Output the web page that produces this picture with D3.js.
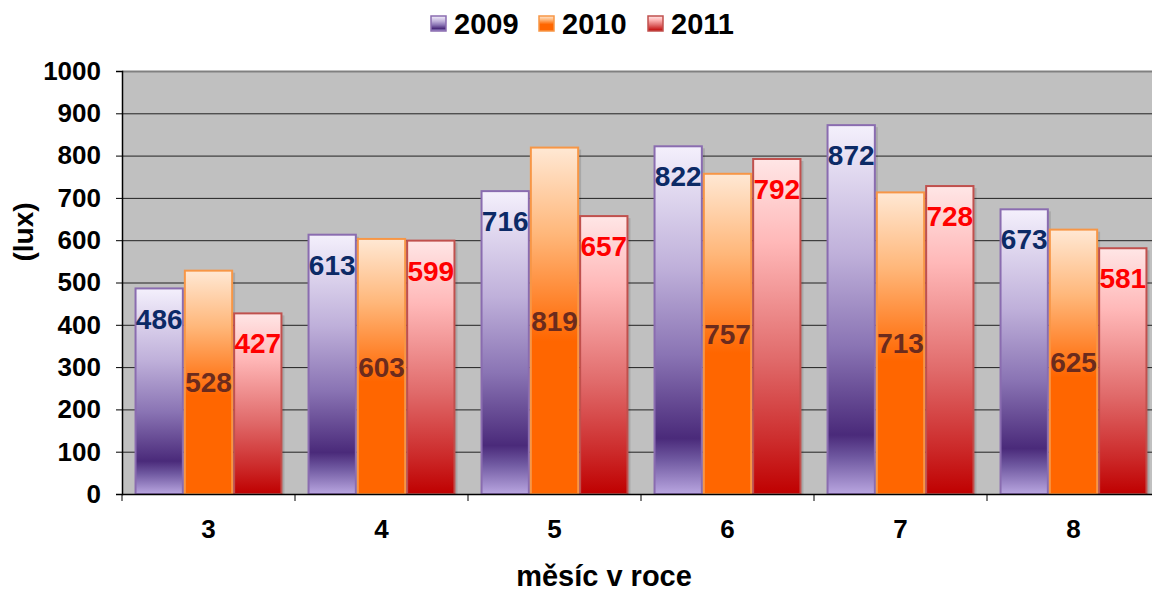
<!DOCTYPE html>
<html>
<head>
<meta charset="utf-8">
<script src="https://cdn.jsdelivr.net/npm/d3@7"></script>
<style>
  body { margin: 0; background: #fff; }
  text { font-family: "Liberation Sans", Arial, sans-serif; font-weight: bold; }
</style>
</head>
<body>
<div id="chart"></div>
<script>
// Months (x categories) and yearly series
const months = ["3", "4", "5", "6", "7", "8"];
const years = ["2009", "2010", "2011"];
const values2009 = [486, 613, 716, 822, 872, 673];
const values2010 = [528, 603, 819, 757, 713, 625];
const values2011 = [427, 599, 657, 792, 728, 581];
const yTicks = [0, 100, 200, 300, 400, 500, 600, 700, 800, 900, 1000];

const seriesValues = { "2009": values2009, "2010": values2010, "2011": values2011 };

// Chart size and plot box (plot runs past the right edge, as in the source)
const width = 1152;
const height = 593;
const plot = { left: 122, right: 1160, top: 71, bottom: 494 };

const svg = d3
  .select("#chart")
  .append("svg")
  .attr("width", width)
  .attr("height", height);

// Gradients for each series
const defs = svg.append("defs");
const gradStops = {
  "2009": [
    [0, "#f4f0fc"], [0.35, "#bfb0da"], [0.6, "#8a74b4"], [0.84, "#4a2a7a"],
    [0.9, "#6f58a0"], [1, "#b9a6e0"]
  ],
  "2010": [
    [0, "#ffe8d4"], [0.25, "#ffb77a"], [0.48, "#ff7a1e"], [0.56, "#ff6600"], [1, "#ff6600"]
  ],
  "2011": [
    [0, "#ffe6e6"], [0.25, "#ffb8b8"], [0.6, "#e06a6a"], [0.85, "#cc2a2a"], [1, "#bf0000"]
  ]
};
const strokeColor = { "2009": "#8a6cb0", "2010": "#f79646", "2011": "#c0504d" };
const labelColor = { "2009": "#0c2a66", "2010": "#6b2b1d", "2011": "#ff0000" };

years.forEach((yr) => {
  const g = defs
    .append("linearGradient")
    .attr("id", "grad" + yr)
    .attr("x1", 0).attr("y1", 0).attr("x2", 0).attr("y2", 1);
  gradStops[yr].forEach(([o, c]) => {
    g.append("stop").attr("offset", o).attr("stop-color", c);
  });
});

// Scales
const x = d3
  .scaleBand()
  .domain(months)
  .range([plot.left, plot.right])
  .paddingInner(0.145)
  .paddingOuter(0.0725);
const xSub = d3.scaleBand().domain(years).range([0, x.bandwidth()]);
const y = d3.scaleLinear().domain([0, 1000]).range([plot.bottom, plot.top]);
const step = x.step();

// Plot background
svg
  .append("rect")
  .attr("x", plot.left)
  .attr("y", plot.top)
  .attr("width", plot.right - plot.left)
  .attr("height", plot.bottom - plot.top)
  .attr("fill", "#c0c0c0");

// Gridlines
svg
  .append("g")
  .selectAll("line")
  .data(yTicks.filter((t) => t > 0))
  .join("line")
  .attr("x1", plot.left)
  .attr("x2", plot.right)
  .attr("y1", (d) => y(d) + 0.5)
  .attr("y2", (d) => y(d) + 0.5)
  .attr("stroke", (d) => (d === 1000 ? "#808080" : "#222"))
  .attr("stroke-width", (d) => (d === 1000 ? 2 : 1));

// Bars
const groups = svg
  .append("g")
  .selectAll("g")
  .data(months)
  .join("g")
  .attr("transform", (d) => `translate(${x(d)},0)`);

const barData = (m, i) =>
  years.map((yr) => ({ year: yr, value: seriesValues[yr][i] }));

groups
  .selectAll("rect.shadow")
  .data(barData)
  .join("rect")
  .attr("class", "shadow")
  .attr("x", (d) => xSub(d.year) + 2)
  .attr("y", (d) => y(d.value) + 2)
  .attr("width", xSub.bandwidth())
  .attr("height", (d) => plot.bottom - y(d.value) - 2)
  .attr("fill", "rgba(0,0,0,0.12)");

groups
  .selectAll("rect.bar")
  .data(barData)
  .join("rect")
  .attr("class", "bar")
  .attr("x", (d) => xSub(d.year) + 1)
  .attr("y", (d) => y(d.value))
  .attr("width", xSub.bandwidth() - 2)
  .attr("height", (d) => plot.bottom - y(d.value))
  .attr("fill", (d) => `url(#grad${d.year})`)
  .attr("stroke", (d) => strokeColor[d.year])
  .attr("stroke-width", 2);

// Data labels
groups
  .selectAll("text")
  .data(barData)
  .join("text")
  .attr("x", (d) => xSub(d.year) + xSub.bandwidth() / 2)
  .attr("y", (d) =>
    d.year === "2010"
      ? (y(d.value) + plot.bottom) / 2
      : y(d.value) + 30
  )
  .attr("dy", "0.36em")
  .attr("text-anchor", "middle")
  .attr("font-size", 28)
  .attr("fill", (d) => labelColor[d.year])
  .text((d) => d.value);

// Y axis
const yAxis = svg
  .append("g")
  .attr("transform", `translate(${plot.left},0)`)
  .call(
    d3.axisLeft(y).tickValues(yTicks).tickFormat(d3.format("d")).tickSize(6).tickPadding(15)
  );
yAxis.select(".domain").attr("stroke", "#000").attr("stroke-width", 1.5);
yAxis.selectAll(".tick line").attr("stroke", "#000");
yAxis
  .selectAll(".tick text")
  .attr("font-size", 26)
  .attr("font-weight", "bold")
  .attr("font-family", "Liberation Sans, Arial, sans-serif")
  .attr("fill", "#000");

// X axis: ticks at category boundaries
svg
  .append("line")
  .attr("x1", plot.left)
  .attr("x2", plot.right)
  .attr("y1", plot.bottom + 0.5)
  .attr("y2", plot.bottom + 0.5)
  .attr("stroke", "#000")
  .attr("stroke-width", 1.5);

svg
  .append("g")
  .selectAll("line")
  .data(months)
  .join("line")
  .attr("x1", (d) => x(d) - (step - x.bandwidth()) / 2)
  .attr("x2", (d) => x(d) - (step - x.bandwidth()) / 2)
  .attr("y1", plot.bottom)
  .attr("y2", plot.bottom + 7)
  .attr("stroke", "#000");

svg
  .append("g")
  .selectAll("text")
  .data(months)
  .join("text")
  .attr("x", (d) => x(d) + x.bandwidth() / 2)
  .attr("y", 538)
  .attr("text-anchor", "middle")
  .attr("font-size", 26)
  .text((d) => d);

// Axis titles
svg
  .append("text")
  .attr("x", 604)
  .attr("y", 586)
  .attr("text-anchor", "middle")
  .attr("font-size", 29)
  .text("měsíc v roce");

svg
  .append("text")
  .attr("transform", "translate(33,232) rotate(-90)")
  .attr("text-anchor", "middle")
  .attr("font-size", 28)
  .text("(lux)");

// Legend
const legendX = [431, 539, 648];
const legend = svg
  .append("g")
  .selectAll("g")
  .data(years)
  .join("g")
  .attr("transform", (d, i) => `translate(${legendX[i]},16)`);

legend
  .append("rect")
  .attr("width", 15)
  .attr("height", 15)
  .attr("fill", (d) => `url(#grad${d})`)
  .attr("stroke", (d) => strokeColor[d])
  .attr("stroke-width", 1.5);

legend
  .append("text")
  .attr("x", 23)
  .attr("y", 8)
  .attr("dy", "0.36em")
  .attr("font-size", 29)
  .text((d) => d);
</script>
</body>
</html>
